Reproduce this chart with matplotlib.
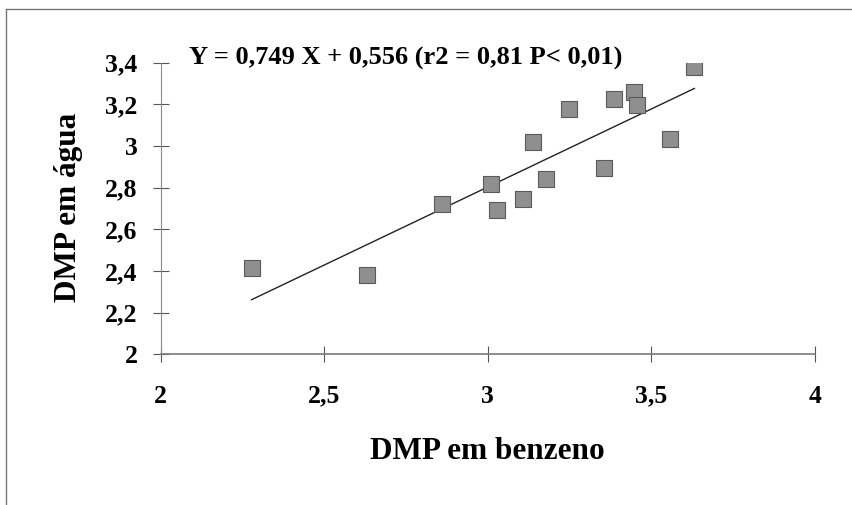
import matplotlib
matplotlib.use("Agg")
import matplotlib.pyplot as plt
from matplotlib.lines import Line2D
import numpy as np

# Data
dmp_benzeno = [2.278, 2.631, 2.859, 3.009, 3.028, 3.108, 3.139, 3.179,
               3.249, 3.357, 3.387, 3.446, 3.456, 3.559, 3.632]
dmp_agua = [2.416, 2.381, 2.720, 2.818, 2.691, 2.747, 3.021, 2.840,
            3.176, 2.894, 3.227, 3.261, 3.197, 3.032, 3.381]
slope = 0.749
intercept = 0.556
x_ticks = [2, 2.5, 3, 3.5, 4]
x_tick_labels = ["2", "2,5", "3", "3,5", "4"]
y_ticks = [2, 2.2, 2.4, 2.6, 2.8, 3, 3.2, 3.4]
y_tick_labels = ["2", "2,2", "2,4", "2,6", "2,8", "3", "3,2", "3,4"]
equation = "Y = 0,749 X + 0,556 (r2 = 0,81 P< 0,01)"
x_label = "DMP em benzeno"
y_label = "DMP em água"

plt.rcParams['font.family'] = ['Liberation Serif', 'DejaVu Serif']
plt.rcParams['font.weight'] = 'bold'

fig = plt.figure(figsize=(8.53, 5.05), dpi=100)
W, H = 853, 505
ax = fig.add_axes([160.7 / W, 1 - 354.3 / H, (814.7 - 160.7) / W, (354.3 - 62.7) / H])

ax.scatter(dmp_benzeno, dmp_agua, marker='s', s=11 ** 2, facecolor='#8f8f8f',
           edgecolor='#5a5a5a', linewidths=0.8, zorder=3)

xs = np.array([min(dmp_benzeno), max(dmp_benzeno)])
ax.plot(xs, slope * xs + intercept, color='#222222', lw=1.0, zorder=2)

ax.set_xlim(2, 4)
ax.set_ylim(2, 3.4)
ax.set_xticks(x_ticks)
ax.set_xticklabels(x_tick_labels)
ax.set_yticks(y_ticks)
ax.set_yticklabels(y_tick_labels)

for s in ['top', 'right']:
    ax.spines[s].set_visible(False)
ax.spines['left'].set_color('#8a8a8a')
ax.spines['left'].set_linewidth(0.8)
ax.spines['bottom'].set_color('#7a7a7a')
ax.spines['bottom'].set_linewidth(1.2)

ax.tick_params(axis='both', direction='inout', length=11.5, width=0.8,
               color='#555555', labelsize=18.5)
ax.tick_params(axis='y', pad=11)
ax.tick_params(axis='x', pad=16)
for lab in ax.get_xticklabels() + ax.get_yticklabels():
    lab.set_fontweight('bold')

ax.set_xlabel(x_label, fontsize=22.5, fontweight='bold', va='center')
ax.set_ylabel(y_label, fontsize=22.5, fontweight='bold', va='center')
ax.xaxis.set_label_coords(0.499, -0.335)
ax.yaxis.set_label_coords(-0.1417, 0.505)

fig.text(189 / W, 1 - 58 / H, equation, fontsize=19, fontweight='bold',
         ha='left', va='center')

# outer chart-area border (top and left)
fig.add_artist(Line2D([6 / W, 1], [1 - 9 / H, 1 - 9 / H], transform=fig.transFigure,
                      color='#777777', lw=1.0))
fig.add_artist(Line2D([6 / W, 6 / W], [0, 1 - 9 / H], transform=fig.transFigure,
                      color='#777777', lw=1.0))

fig.savefig('out.png', dpi=100)
